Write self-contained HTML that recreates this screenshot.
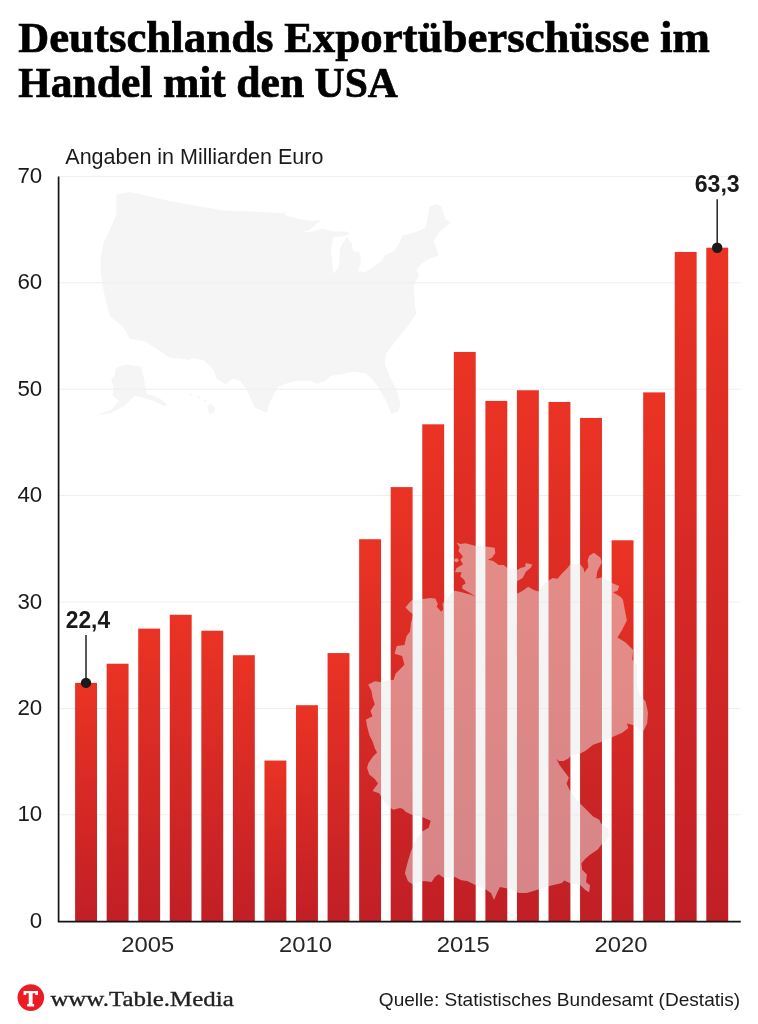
<!DOCTYPE html>
<html><head><meta charset="utf-8"><title>Deutschlands Exportüberschüsse im Handel mit den USA</title>
<style>
html,body{margin:0;padding:0;background:#fff;}
body{width:758px;height:1024px;overflow:hidden;position:relative;}
svg{display:block;position:absolute;left:0;top:0;will-change:transform;}
text{font-family:"Liberation Sans",sans-serif;}
.serif{font-family:"Liberation Serif",serif;}
</style></head><body>
<svg width="758" height="1024" viewBox="0 0 758 1024">
<defs>
<linearGradient id="bg" x1="0" y1="0" x2="0" y2="1">
<stop offset="0" stop-color="#ea3324"/><stop offset="1" stop-color="#c11f26"/>
</linearGradient>
</defs>
<rect x="0" y="0" width="758" height="1024" fill="#fff"/>

<g fill="#f5f5f5">
<path d="M116.4 194.5 L129.6 191.9 L169.2 201.1 L221.9 210.3 L283.2 213.0 L284.5 210.3 L285.8 215.6 L299.0 219.0 L312.2 220.9 L321.5 219.6 L309.6 230.0 L301.7 232.2 L312.2 231.5 L322.8 228.8 L333.3 231.5 L346.5 231.5 L350.5 234.0 L341.0 236.7 L333.3 236.7 L331.0 250.0 L333.3 273.7 L339.0 267.0 L340.0 248.6 L346.5 236.7 L351.8 243.3 L353.0 251.0 L359.7 252.6 L361.0 261.8 L358.4 271.0 L365.0 272.3 L380.8 261.8 L384.8 255.2 L394.0 251.2 L399.3 243.3 L402.0 235.4 L417.8 231.5 L425.7 227.5 L429.6 206.4 L436.2 204.3 L441.5 206.4 L445.5 219.6 L450.7 222.2 L438.9 232.8 L433.6 240.7 L438.9 255.2 L428.3 259.2 L420.4 264.4 L416.4 269.7 L419.0 275.0 L413.8 285.5 L415.1 306.6 L416.4 313.7 L407.2 326.9 L396.6 340.1 L386.1 353.3 L384.8 363.9 L390.0 377.0 L396.6 390.3 L400.6 403.5 L398.0 411.4 L391.4 414.0 L386.1 400.8 L378.2 387.6 L372.9 379.7 L365.0 373.1 L351.8 371.8 L341.2 374.4 L330.7 375.8 L325.4 381.0 L317.5 383.7 L309.6 381.0 L296.4 381.0 L285.8 383.7 L277.3 387.6 L269.4 403.5 L266.8 412.7 L254.9 407.4 L248.3 392.9 L240.4 381.0 L232.5 378.4 L225.9 384.5 L216.6 378.4 L214.0 370.5 L203.5 359.9 L191.6 358.0 L190.3 359.9 L169.2 357.3 L145.4 341.5 L129.6 338.8 L124.3 328.3 L115.0 320.3 L109.8 316.4 L105.8 301.4 L103.2 288.2 L100.6 272.3 L100.6 259.2 L103.2 243.3 L107.2 235.4 L116.4 214.3Z"/>
<path d="M115.0 369.2 L119.0 366.5 L126.9 364.4 L141.5 367.0 L144.1 379.7 L146.7 394.2 L153.3 395.5 L161.2 399.5 L167.8 404.8 L163.9 406.1 L153.3 400.8 L134.9 395.5 L129.6 400.8 L124.3 406.1 L111.1 412.7 L95.3 416.1 L111.1 410.0 L119.0 400.8 L112.4 395.5 L113.7 387.6 L111.1 379.7 L115.0 374.4Z"/>
<path d="M207.4 406.0 L211.0 403.5 L215.3 408.0 L214.0 413.0 L209.0 414.0Z"/>
<path d="M189.0 393.5 L192.0 394.0 L191.0 396.0Z"/>
<path d="M197.0 396.0 L201.0 397.0 L199.0 399.0Z"/>
<path d="M203.0 399.5 L207.0 400.5 L205.0 402.5Z"/>
</g>
<g stroke="#eeeeee" stroke-width="1">
<line x1="58" y1="814.80" x2="740.5" y2="814.80"/>
<line x1="58" y1="708.40" x2="740.5" y2="708.40"/>
<line x1="58" y1="602.00" x2="740.5" y2="602.00"/>
<line x1="58" y1="495.60" x2="740.5" y2="495.60"/>
<line x1="58" y1="389.20" x2="740.5" y2="389.20"/>
<line x1="58" y1="282.80" x2="740.5" y2="282.80"/>
<line x1="58" y1="176.40" x2="740.5" y2="176.40"/>
</g>
<rect x="75.10" y="682.86" width="21.90" height="238.34" fill="url(#bg)"/>
<rect x="106.66" y="663.71" width="21.90" height="257.49" fill="url(#bg)"/>
<rect x="138.22" y="628.60" width="21.90" height="292.60" fill="url(#bg)"/>
<rect x="169.78" y="614.77" width="21.90" height="306.43" fill="url(#bg)"/>
<rect x="201.34" y="630.73" width="21.90" height="290.47" fill="url(#bg)"/>
<rect x="232.90" y="655.20" width="21.90" height="266.00" fill="url(#bg)"/>
<rect x="264.46" y="760.54" width="21.90" height="160.66" fill="url(#bg)"/>
<rect x="296.02" y="705.21" width="21.90" height="215.99" fill="url(#bg)"/>
<rect x="327.58" y="653.07" width="21.90" height="268.13" fill="url(#bg)"/>
<rect x="359.14" y="539.22" width="21.90" height="381.98" fill="url(#bg)"/>
<rect x="390.70" y="487.09" width="21.90" height="434.11" fill="url(#bg)"/>
<rect x="422.26" y="424.31" width="21.90" height="496.89" fill="url(#bg)"/>
<rect x="453.82" y="351.96" width="21.90" height="569.24" fill="url(#bg)"/>
<rect x="485.38" y="400.90" width="21.90" height="520.30" fill="url(#bg)"/>
<rect x="516.94" y="390.26" width="21.90" height="530.94" fill="url(#bg)"/>
<rect x="548.50" y="401.97" width="21.90" height="519.23" fill="url(#bg)"/>
<rect x="580.06" y="417.93" width="21.90" height="503.27" fill="url(#bg)"/>
<rect x="611.62" y="540.29" width="21.90" height="380.91" fill="url(#bg)"/>
<rect x="643.18" y="392.39" width="21.90" height="528.81" fill="url(#bg)"/>
<rect x="674.74" y="251.94" width="21.90" height="669.26" fill="url(#bg)"/>
<rect x="706.30" y="247.69" width="21.90" height="673.51" fill="url(#bg)"/>
<g fill="#eaeaea" fill-opacity="0.5"><path d="M456.4 542.5 L460.3 543.9 L465.6 543.2 L474.9 545.8 L485.4 546.5 L494.6 547.8 L495.3 553.1 L492.0 557.7 L488.0 559.7 L493.3 561.0 L498.6 565.0 L503.9 565.0 L506.5 567.6 L517.1 570.1 L521.1 567.7 L525.0 566.9 L525.8 563.0 L532.2 564.5 L531.0 567.5 L525.8 571.7 L522.7 578.0 L517.1 581.2 L517.1 593.8 L522.7 590.7 L528.2 586.7 L533.7 589.9 L538.5 591.4 L544.0 584.0 L548.8 580.4 L552.7 578.0 L557.5 578.8 L562.2 573.2 L567.0 568.5 L570.2 564.5 L579.7 563.7 L583.6 568.5 L584.4 572.5 L588.4 566.9 L587.6 560.6 L589.2 555.8 L593.9 552.7 L600.2 557.4 L601.8 562.2 L597.1 571.7 L596.3 578.8 L601.8 577.2 L606.6 579.6 L611.3 582.7 L619.2 585.9 L617.6 590.7 L612.9 592.2 L620.8 597.0 L623.0 600.0 L625.3 612.5 L626.9 620.3 L622.2 629.7 L617.5 637.5 L625.3 642.2 L633.1 650.0 L632.3 659.4 L637.0 665.6 L637.0 684.4 L639.4 693.8 L645.6 701.6 L648.0 712.5 L647.2 723.4 L642.5 732.8 L637.8 728.1 L633.1 725.0 L626.9 723.4 L628.4 728.1 L622.2 732.8 L611.3 737.5 L602.5 741.6 L593.1 744.7 L585.3 750.9 L580.6 753.3 L571.3 755.6 L568.1 758.8 L563.4 761.1 L558.8 761.1 L556.4 758.8 L559.5 765.0 L564.2 771.3 L568.9 777.5 L566.6 783.8 L569.7 790.0 L577.5 800.9 L582.2 805.6 L586.9 810.3 L593.1 816.6 L599.4 819.7 L600.9 823.6 L608.8 829.1 L609.5 836.9 L602.5 843.1 L597.8 849.4 L590.0 854.8 L585.3 858.8 L581.4 863.4 L582.2 869.7 L586.9 874.4 L586.1 882.2 L590.0 885.3 L589.2 892.3 L585.3 890.0 L579.8 884.5 L571.3 883.8 L564.2 880.6 L561.9 883.0 L549.4 886.1 L546.4 887.1 L536.6 890.0 L526.7 893.0 L518.7 893.0 L510.8 889.1 L504.9 888.1 L499.9 887.1 L497.0 893.0 L494.0 899.9 L491.0 893.0 L485.1 889.1 L475.2 885.1 L467.3 881.1 L461.3 880.2 L453.4 876.2 L444.5 878.2 L438.6 874.2 L434.6 877.2 L431.7 882.1 L423.7 881.1 L411.9 884.1 L407.9 881.1 L404.9 873.2 L407.9 861.3 L410.9 851.5 L415.8 839.6 L421.8 831.7 L428.7 827.7 L430.7 820.8 L421.8 816.8 L411.9 814.8 L405.9 811.9 L403.0 808.9 L400.0 807.9 L393.5 809.7 L388.0 806.4 L383.6 800.9 L379.2 793.3 L372.6 791.1 L374.8 787.8 L378.1 783.4 L374.8 779.0 L369.3 774.6 L367.1 768.0 L368.2 763.6 L372.6 757.0 L377.0 752.6 L374.8 748.2 L372.6 741.6 L369.3 735.0 L367.1 726.2 L366.0 719.6 L372.6 716.3 L370.4 710.9 L374.8 704.3 L372.6 697.7 L371.5 691.1 L368.2 684.5 L374.8 681.2 L381.4 682.3 L389.1 680.1 L393.5 680.1 L395.7 673.5 L404.4 664.7 L402.2 655.9 L394.6 653.7 L396.7 646.0 L404.4 644.9 L406.6 636.1 L409.9 631.7 L411.0 623.0 L413.2 614.2 L409.9 612.0 L405.5 607.6 L408.8 603.2 L412.1 599.9 L425.3 598.8 L430.0 598.0 L435.3 598.6 L437.9 603.9 L436.6 606.5 L441.2 611.8 L443.2 609.2 L442.5 603.9 L443.9 601.9 L453.7 590.5 L461.7 592.3 L470.9 594.8 L475.5 596.5 L469.6 592.7 L462.3 588.7 L462.3 585.4 L465.6 583.4 L464.3 580.1 L460.3 576.2 L461.7 572.2 L455.0 572.2 L456.4 568.3 L463.0 564.3 L460.3 559.7 L463.0 556.4 L458.4 551.1 L459.7 547.2Z"/><ellipse cx="456.4" cy="560.3" rx="2.2" ry="2"/></g>
<path d="M58.6 176.6 V921.7 H740.8" fill="none" stroke="#141414" stroke-width="1.7"/>
<text x="42.2" y="927.8" font-size="22.3" fill="#1a1a1a" text-anchor="end">0</text>
<text x="42.2" y="821.4" font-size="22.3" fill="#1a1a1a" text-anchor="end">10</text>
<text x="42.2" y="715.0" font-size="22.3" fill="#1a1a1a" text-anchor="end">20</text>
<text x="42.2" y="608.6" font-size="22.3" fill="#1a1a1a" text-anchor="end">30</text>
<text x="42.2" y="502.2" font-size="22.3" fill="#1a1a1a" text-anchor="end">40</text>
<text x="42.2" y="395.8" font-size="22.3" fill="#1a1a1a" text-anchor="end">50</text>
<text x="42.2" y="289.4" font-size="22.3" fill="#1a1a1a" text-anchor="end">60</text>
<text x="42.2" y="183.0" font-size="22.3" fill="#1a1a1a" text-anchor="end">70</text>
<text x="147.7" y="951.6" font-size="22.5" fill="#262626" text-anchor="middle" textLength="53.0" lengthAdjust="spacingAndGlyphs">2005</text>
<text x="305.5" y="951.6" font-size="22.5" fill="#262626" text-anchor="middle" textLength="53.0" lengthAdjust="spacingAndGlyphs">2010</text>
<text x="463.3" y="951.6" font-size="22.5" fill="#262626" text-anchor="middle" textLength="53.0" lengthAdjust="spacingAndGlyphs">2015</text>
<text x="621.1" y="951.6" font-size="22.5" fill="#262626" text-anchor="middle" textLength="53.0" lengthAdjust="spacingAndGlyphs">2020</text>
<text x="65.3" y="163.6" font-size="21.3" fill="#1a1a1a" textLength="258.1" lengthAdjust="spacingAndGlyphs">Angaben in Milliarden Euro</text>
<line x1="86.0" y1="635.0" x2="86.0" y2="682.9" stroke="#222" stroke-width="1.5"/>
<circle cx="86.0" cy="682.9" r="5.2" fill="#1a1a1a"/>
<text x="65.8" y="628.0" font-size="23" font-weight="bold" fill="#1a1a1a" textLength="44.3" lengthAdjust="spacingAndGlyphs">22,4</text>
<line x1="717.2" y1="199.2" x2="717.2" y2="247.7" stroke="#222" stroke-width="1.5"/>
<circle cx="717.2" cy="247.7" r="5.2" fill="#1a1a1a"/>
<text x="694.7" y="192.2" font-size="23" font-weight="bold" fill="#1a1a1a" textLength="45.0" lengthAdjust="spacingAndGlyphs">63,3</text>
<text class="serif" x="18.3" y="52.4" font-size="42.5" font-weight="bold" fill="#000" stroke="#000" stroke-width="0.7" textLength="691.6" lengthAdjust="spacingAndGlyphs"><tspan font-size="42.5">D</tspan><tspan font-size="44.625">eutschlands</tspan><tspan font-size="42.5"> E</tspan><tspan font-size="44.625">xportüberschüsse</tspan><tspan font-size="42.5"> </tspan><tspan font-size="44.625">im</tspan></text>
<text class="serif" x="18.3" y="96.9" font-size="42.5" font-weight="bold" fill="#000" stroke="#000" stroke-width="0.7" textLength="379.5" lengthAdjust="spacingAndGlyphs"><tspan font-size="42.5">H</tspan><tspan font-size="44.625">andel</tspan><tspan font-size="42.5"> </tspan><tspan font-size="44.625">mit</tspan><tspan font-size="42.5"> </tspan><tspan font-size="44.625">den</tspan><tspan font-size="42.5"> USA</tspan></text>
<circle cx="30.8" cy="997.6" r="13.3" fill="#ec1c24"/>
<path d="M23.6 990.9 H38.0 V994.9 H35.3 V993.3 H32.6 V1003.9 H34.1 V1006.5 H27.2 V1003.9 H28.7 V993.3 H26.2 V994.9 H23.6 Z" fill="#fff"/>
<text class="serif" x="50.4" y="1005.8" font-size="21" fill="#222" stroke="#222" stroke-width="0.35" textLength="183.3" lengthAdjust="spacingAndGlyphs">www.Table.Media</text>
<text x="378.8" y="1006.3" font-size="18.6" fill="#1a1a1a" textLength="361.4" lengthAdjust="spacingAndGlyphs">Quelle: Statistisches Bundesamt (Destatis)</text>
</svg>
</body></html>
